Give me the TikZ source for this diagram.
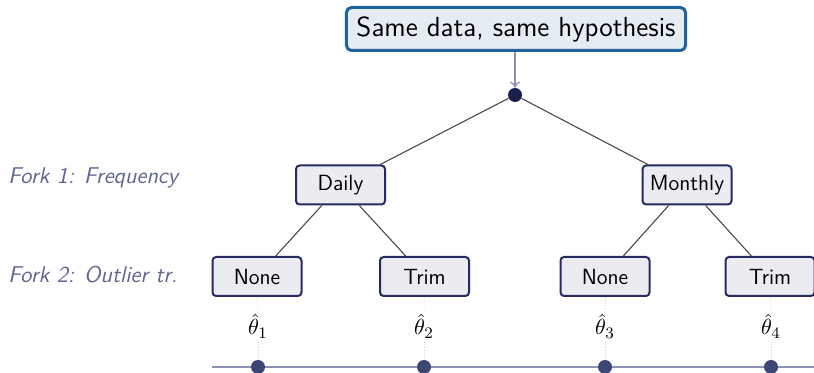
\documentclass[tikz,border=0pt]{standalone}
\usetikzlibrary{arrows.meta}
\definecolor{boxfill}{HTML}{EBECF1}
\definecolor{boxdraw}{HTML}{252A60}
\definecolor{topfill}{HTML}{E6ECF3}
\definecolor{topdraw}{HTML}{1F629E}
\definecolor{dotnavy}{HTML}{1B1F50}
\definecolor{axisline}{HTML}{8C90B2}
\definecolor{axisdot}{HTML}{3E4674}
\definecolor{forklabel}{HTML}{5F6691}
\definecolor{arrowcol}{HTML}{8A8FB3}
\definecolor{treeline}{HTML}{4A4A4A}
\begin{document}
\begin{tikzpicture}[x=0.5pt,y=-0.5pt,
  choice/.style={draw=boxdraw, line width=1pt, fill=boxfill, rounded corners=1.8pt,
    minimum width=44.5pt, minimum height=19.5pt, inner xsep=3pt, inner ysep=0pt,
    font=\sffamily\fontsize{11}{13}\selectfont},
  topbox/.style={draw=topdraw, line width=1.5pt, fill=topfill, rounded corners=2.5pt,
    minimum height=21.5pt, inner xsep=5pt, inner ysep=0pt,
    font=\sffamily\fontsize{13.8}{16}\selectfont},
  forkname/.style={anchor=base west, text=forklabel, inner sep=0pt,
    font=\sffamily\itshape\fontsize{11.4}{13}\selectfont},
  branch/.style={draw=treeline, line width=0.55pt},
  guide/.style={draw=black!18, line width=0.4pt, densely dotted},
  estdot/.style={circle, fill=axisdot, minimum size=7pt, inner sep=0pt},
  estlabel/.style={inner sep=1.5pt, font=\fontsize{11}{13}\selectfont}
]
\useasboundingbox (0,0) rectangle (814,373);

% hypothesis box and root
\node[topbox] (top) at (516,29) {Same data, same hypothesis};
\node[circle, fill=dotnavy, minimum size=7pt, inner sep=0pt] (root) at (515,95) {};
\draw[arrowcol, line width=0.6pt, -{To[length=3pt,width=5pt]}] (top.south -| root) -- (root.north);

% first fork
\node[choice] (daily) at (340.5,185) {Daily};
\node[choice] (monthly) at (687,185) {Monthly};

% second fork
\node[choice] (n1) at (257,276.5) {None};
\node[choice] (t1) at (424.5,276.5) {Trim};
\node[choice] (n2) at (605,276.5) {None};
\node[choice] (t2) at (770,276.5) {Trim};

\draw[branch] (root) -- (daily);
\draw[branch] (root) -- (monthly);
\draw[branch] (daily) -- (n1);
\draw[branch] (daily) -- (t1);
\draw[branch] (monthly) -- (n2);
\draw[branch] (monthly) -- (t2);

% fork names
\node[forkname] (f1) at (8,184) {Fork 1: Frequency};
\node[forkname] (f2) at (8,283) {Fork 2: Outlier tr.};

% estimate axis
\coordinate (axl) at (212,367);
\coordinate (axr) at (814,367);
\draw[axisline, line width=1pt] (axl) -- (axr);

\node[estdot] (e1) at (258,367) {};
\node[estdot] (e2) at (424,367) {};
\node[estdot] (e3) at (605,367) {};
\node[estdot] (e4) at (771,367) {};

\node[estlabel] (l1) at (258,326) {$\hat\theta_1$};
\node[estlabel] (l2) at (424,326) {$\hat\theta_2$};
\node[estlabel] (l3) at (605,326) {$\hat\theta_3$};
\node[estlabel] (l4) at (771,326) {$\hat\theta_4$};

% faint guides from each leaf down to its estimate
\foreach \i/\b in {1/n1,2/t1,3/n2,4/t2} {
  \draw[guide] (\b.south) -- (l\i.north -| e\i);
  \draw[guide] (l\i.south -| e\i) -- (e\i.north);
}
\end{tikzpicture}
\end{document}
